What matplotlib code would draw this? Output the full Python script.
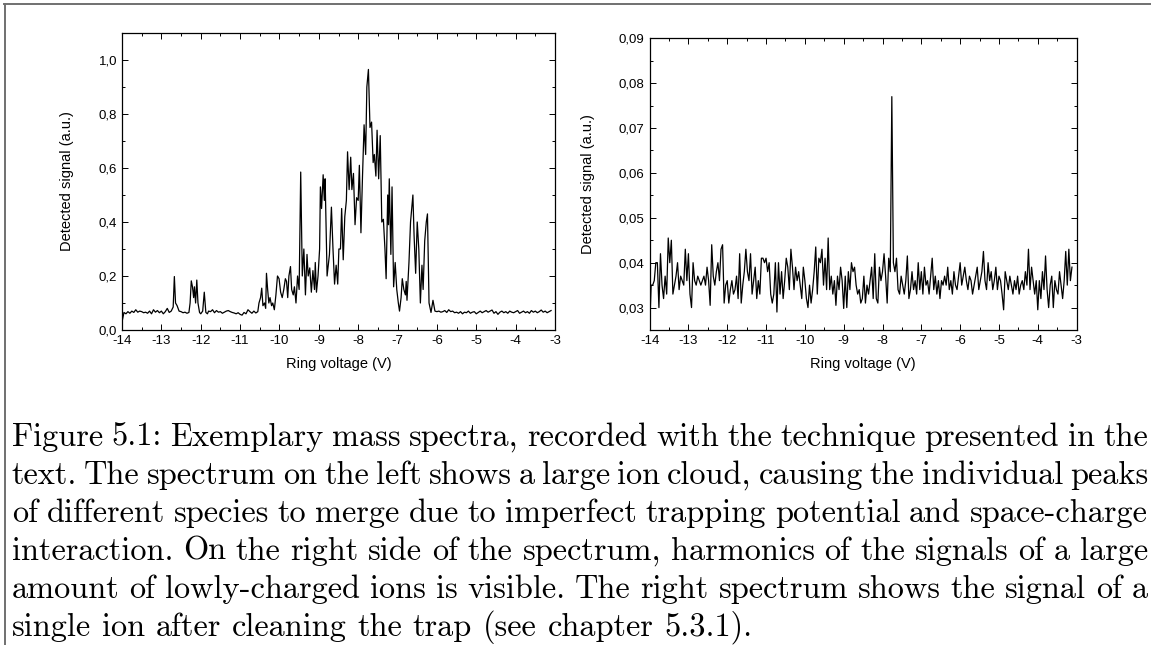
import numpy as np
import matplotlib
matplotlib.use('Agg')
import matplotlib.pyplot as plt
from matplotlib.lines import Line2D

plt.rcParams['font.family'] = ['Liberation Sans', 'DejaVu Sans']

# ---- data: left spectrum (large ion cloud) ----
left_volt = [
    -14.00, -13.95, -13.90, -13.85, -13.80, -13.75, -13.70, -13.65, -13.60, -13.55,
    -13.50, -13.45, -13.40, -13.35, -13.30, -13.25, -13.20, -13.15, -13.10, -13.05,
    -13.00, -12.95, -12.90, -12.85, -12.80, -12.75, -12.70, -12.67, -12.64, -12.60,
    -12.55, -12.50, -12.45, -12.40, -12.35, -12.30, -12.27, -12.24, -12.21, -12.18,
    -12.16, -12.13, -12.10, -12.07, -12.03, -12.00, -11.95, -11.91, -11.87, -11.83,
    -11.80, -11.75, -11.70, -11.65, -11.60, -11.55, -11.50, -11.45, -11.40, -11.35,
    -11.30, -11.25, -11.20, -11.15, -11.10, -11.05, -11.00, -10.95, -10.90, -10.85,
    -10.80, -10.75, -10.70, -10.65, -10.60, -10.55, -10.52, -10.48, -10.45, -10.42,
    -10.38, -10.35, -10.33, -10.30, -10.27, -10.24, -10.20, -10.17, -10.13, -10.09,
    -10.05, -10.01, -9.97, -9.93, -9.89, -9.85, -9.82, -9.79, -9.76, -9.72,
    -9.69, -9.65, -9.62, -9.58, -9.54, -9.50, -9.46, -9.42, -9.38, -9.34,
    -9.30, -9.27, -9.23, -9.19, -9.15, -9.11, -9.09, -9.06, -9.02, -8.98,
    -8.96, -8.93, -8.89, -8.86, -8.84, -8.79, -8.73, -8.68, -8.64, -8.60,
    -8.56, -8.52, -8.49, -8.45, -8.42, -8.38, -8.34, -8.30, -8.27, -8.23,
    -8.19, -8.16, -8.12, -8.08, -8.04, -8.00, -7.97, -7.93, -7.89, -7.85,
    -7.81, -7.78, -7.74, -7.70, -7.66, -7.62, -7.59, -7.55, -7.52, -7.48,
    -7.44, -7.40, -7.36, -7.32, -7.29, -7.25, -7.23, -7.21, -7.17, -7.14,
    -7.10, -7.06, -7.02, -6.98, -6.95, -6.91, -6.88, -6.84, -6.80, -6.78,
    -6.76, -6.71, -6.67, -6.61, -6.58, -6.54, -6.50, -6.46, -6.42, -6.38,
    -6.35, -6.31, -6.27, -6.24, -6.20, -6.15, -6.10, -6.05, -6.00,
]
left_signal = [
    0.030, 0.065, 0.060, 0.068, 0.062, 0.070, 0.065, 0.075, 0.066, 0.070,
    0.068, 0.064, 0.066, 0.062, 0.070, 0.060, 0.075, 0.066, 0.072, 0.064,
    0.070, 0.060, 0.068, 0.080, 0.065, 0.070, 0.085, 0.198, 0.100, 0.090,
    0.070, 0.068, 0.064, 0.066, 0.062, 0.065, 0.100, 0.182, 0.160, 0.120,
    0.160, 0.100, 0.185, 0.100, 0.065, 0.060, 0.070, 0.140, 0.065, 0.060,
    0.070, 0.068, 0.075, 0.064, 0.072, 0.066, 0.068, 0.062, 0.066, 0.070,
    0.072, 0.068, 0.065, 0.063, 0.060, 0.064, 0.058, 0.055, 0.065, 0.060,
    0.075, 0.068, 0.062, 0.070, 0.063, 0.068, 0.100, 0.120, 0.155, 0.090,
    0.100, 0.080, 0.210, 0.150, 0.100, 0.120, 0.090, 0.100, 0.075, 0.130,
    0.200, 0.190, 0.140, 0.120, 0.150, 0.190, 0.180, 0.120, 0.200, 0.235,
    0.150, 0.130, 0.160, 0.100, 0.200, 0.150, 0.585, 0.200, 0.300, 0.130,
    0.280, 0.200, 0.230, 0.140, 0.220, 0.150, 0.250, 0.140, 0.200, 0.300,
    0.530, 0.450, 0.575, 0.480, 0.560, 0.200, 0.280, 0.455, 0.300, 0.170,
    0.240, 0.170, 0.300, 0.300, 0.450, 0.260, 0.420, 0.480, 0.660, 0.520,
    0.640, 0.520, 0.580, 0.390, 0.490, 0.480, 0.610, 0.360, 0.570, 0.760,
    0.650, 0.900, 0.965, 0.750, 0.770, 0.620, 0.650, 0.570, 0.740, 0.560,
    0.720, 0.400, 0.410, 0.300, 0.190, 0.500, 0.390, 0.560, 0.280, 0.530,
    0.160, 0.250, 0.150, 0.100, 0.070, 0.120, 0.190, 0.150, 0.130, 0.180,
    0.110, 0.250, 0.400, 0.500, 0.350, 0.210, 0.400, 0.300, 0.100, 0.240,
    0.150, 0.330, 0.400, 0.430, 0.100, 0.065, 0.110, 0.070, 0.068,
]
# flat tail of the left scan, -5.95 V to -3.10 V in 0.05 V steps
left_tail_volt = np.linspace(-5.95, -3.10, 58)
left_tail_signal = [
    0.070, 0.066, 0.068, 0.072, 0.065, 0.075, 0.068, 0.070, 0.064, 0.066,
    0.062, 0.068, 0.060, 0.066, 0.064, 0.070, 0.062, 0.066, 0.068, 0.060,
    0.065, 0.070, 0.064, 0.068, 0.072, 0.066, 0.070, 0.074, 0.062, 0.068,
    0.058, 0.066, 0.070, 0.064, 0.068, 0.062, 0.070, 0.066, 0.064, 0.068,
    0.072, 0.062, 0.066, 0.070, 0.064, 0.068, 0.062, 0.072, 0.066, 0.070,
    0.064, 0.068, 0.074, 0.066, 0.070, 0.064, 0.068, 0.072,
]

# ---- data: right spectrum (single ion), scan -14 V .. -3.12 V, 0.04 V steps ----
right_volt = np.linspace(-14.0, -3.12, 273)
right_signal = [
    0.025, 0.035, 0.035, 0.036, 0.040, 0.040, 0.030, 0.042, 0.035, 0.032,
    0.037, 0.033, 0.0455, 0.040, 0.045, 0.033, 0.035, 0.037, 0.040, 0.034,
    0.037, 0.036, 0.035, 0.043, 0.036, 0.042, 0.033, 0.030, 0.040, 0.036,
    0.035, 0.037, 0.036, 0.035, 0.036, 0.037, 0.035, 0.039, 0.036, 0.0305,
    0.044, 0.037, 0.035, 0.038, 0.040, 0.036, 0.043, 0.044, 0.031, 0.035,
    0.036, 0.031, 0.034, 0.036, 0.033, 0.034, 0.037, 0.032, 0.042, 0.031,
    0.035, 0.038, 0.043, 0.038, 0.036, 0.042, 0.033, 0.036, 0.039, 0.032,
    0.036, 0.033, 0.041, 0.041, 0.040, 0.041, 0.038, 0.040, 0.033, 0.031,
    0.033, 0.040, 0.029, 0.040, 0.033, 0.038, 0.032, 0.036, 0.041, 0.039,
    0.034, 0.043, 0.039, 0.034, 0.039, 0.036, 0.038, 0.035, 0.032, 0.039,
    0.036, 0.032, 0.030, 0.035, 0.031, 0.034, 0.038, 0.0435, 0.033, 0.041,
    0.040, 0.043, 0.035, 0.041, 0.034, 0.0455, 0.034, 0.037, 0.033, 0.036,
    0.0305, 0.037, 0.034, 0.039, 0.036, 0.0298, 0.037, 0.030, 0.038, 0.034,
    0.040, 0.038, 0.039, 0.035, 0.033, 0.034, 0.031, 0.032, 0.037, 0.031,
    0.035, 0.033, 0.036, 0.039, 0.032, 0.042, 0.032, 0.031, 0.039, 0.036,
    0.038, 0.042, 0.037, 0.031, 0.041, 0.038, 0.077, 0.040, 0.038, 0.041,
    0.034, 0.033, 0.037, 0.035, 0.033, 0.036, 0.0415, 0.032, 0.034, 0.038,
    0.034, 0.036, 0.033, 0.040, 0.034, 0.038, 0.033, 0.039, 0.035, 0.036,
    0.033, 0.037, 0.041, 0.034, 0.037, 0.033, 0.036, 0.032, 0.036, 0.035,
    0.037, 0.035, 0.039, 0.034, 0.036, 0.033, 0.038, 0.035, 0.034, 0.037,
    0.040, 0.035, 0.037, 0.039, 0.036, 0.034, 0.037, 0.036, 0.033, 0.035,
    0.037, 0.039, 0.034, 0.036, 0.038, 0.0425, 0.036, 0.034, 0.040, 0.036,
    0.038, 0.034, 0.036, 0.039, 0.034, 0.037, 0.036, 0.033, 0.0295, 0.038,
    0.036, 0.034, 0.037, 0.035, 0.033, 0.036, 0.034, 0.037, 0.033, 0.035,
    0.036, 0.034, 0.038, 0.035, 0.043, 0.034, 0.039, 0.036, 0.033, 0.036,
    0.0295, 0.036, 0.032, 0.038, 0.034, 0.0415, 0.034, 0.030, 0.035, 0.037,
    0.030, 0.036, 0.034, 0.033, 0.038, 0.035, 0.032, 0.036, 0.0425, 0.035,
    0.043, 0.036, 0.039,
]

x_ticks = [-14, -13, -12, -11, -10, -9, -8, -7, -6, -5, -4, -3]
x_ticklabels = ['-14', '-13', '-12', '-11', '-10', '-9', '-8', '-7', '-6', '-5', '-4', '-3']
left_yticks = [0.0, 0.2, 0.4, 0.6, 0.8, 1.0]
left_yticklabels = ['0,0', '0,2', '0,4', '0,6', '0,8', '1,0']
right_yticks = [0.03, 0.04, 0.05, 0.06, 0.07, 0.08, 0.09]
right_yticklabels = ['0,03', '0,04', '0,05', '0,06', '0,07', '0,08', '0,09']

caption_lines = [
    'Figure 5.1: Exemplary mass spectra, recorded with the technique presented in the',
    'text. The spectrum on the left shows a large ion cloud, causing the individual peaks',
    'of different species to merge due to imperfect trapping potential and space-charge',
    'interaction. On the right side of the spectrum, harmonics of the signals of a large',
    'amount of lowly-charged ions is visible. The right spectrum shows the signal of a',
    'single ion after cleaning the trap (see chapter 5.3.1).',
]

W, H = 1151, 645
fig = plt.figure(figsize=(W / 100, H / 100), dpi=100)
fig.patch.set_facecolor('white')

ax1 = fig.add_axes([122 / W, 1 - 330 / H, 433 / W, 297 / H])
ax2 = fig.add_axes([649.6 / W, 1 - 330 / H, 427 / W, 291.7 / H])


def style(ax):
    ax.tick_params(which='both', direction='in', top=True, right=True, width=0.7,
                   labelsize=9.5, pad=3.5)
    ax.tick_params(which='major', length=4.5)
    ax.tick_params(which='minor', length=2.3)
    for s in ax.spines.values():
        s.set_linewidth(0.9)
    ax.set_xlim(-14, -3)
    ax.set_xticks(x_ticks)
    ax.set_xticklabels(x_ticklabels)
    ax.set_xticks(np.arange(-13.5, -3, 1.0), minor=True)
    ax.set_xlabel('Ring voltage (V)', fontsize=10.5, labelpad=7)
    ax.set_ylabel('Detected signal (a.u.)', fontsize=10.5)


ax1.plot(list(left_volt) + list(left_tail_volt), left_signal + left_tail_signal,
         color='black', lw=0.9)
style(ax1)
ax1.set_ylim(0, 1.1)
ax1.set_yticks(left_yticks)
ax1.set_yticklabels(left_yticklabels)
ax1.set_yticks(np.arange(0.1, 1.1, 0.2), minor=True)
ax1.yaxis.set_label_coords((74 - 122) / 433, 0.5)

ax2.plot(right_volt, right_signal, color='black', lw=0.9)
style(ax2)
ax2.set_ylim(0.025, 0.09)
ax2.set_yticks(right_yticks)
ax2.set_yticklabels(right_yticklabels)
ax2.set_yticks(np.arange(0.035, 0.09, 0.01), minor=True)
ax2.yaxis.set_label_coords((595 - 649.6) / 427, 0.5)

# frame lines at top and left edge
fig.add_artist(Line2D([4 / W, 1], [1 - 4 / H, 1 - 4 / H], color='#707070', lw=1.4))
fig.add_artist(Line2D([4.5 / W, 4.5 / W], [0, 1 - 4 / H], color='#707070', lw=1.4))

# justified caption in Computer Modern
cap_size = 23.3
renderer = fig.canvas.get_renderer()
x_left, x_right = 11.7, 1148.0
space_px = 0.333 * cap_size * 100 / 72
for k, line in enumerate(caption_lines):
    y = 1 - (446.0 + k * 38.0) / H
    words = line.split()
    texts = [fig.text(0, y, w, fontfamily='cmr10', fontsize=cap_size, va='baseline')
             for w in words]
    widths = [t.get_window_extent(renderer).width for t in texts]
    if k < len(caption_lines) - 1:
        gap = (x_right - x_left - sum(widths)) / (len(words) - 1)
    else:
        gap = space_px
    x = x_left
    for t, w in zip(texts, widths):
        t.set_x(x / W)
        x += w + gap

fig.savefig('out.png', dpi=100)
